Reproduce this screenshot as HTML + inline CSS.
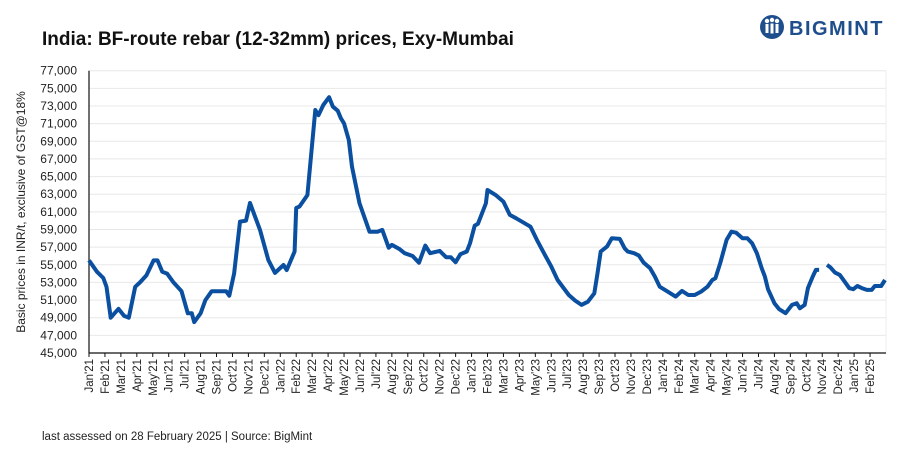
<!DOCTYPE html>
<html><head><meta charset="utf-8"><style>
body{margin:0;background:#fff;width:907px;height:454px;overflow:hidden;font-family:"Liberation Sans",sans-serif}
</style></head><body>
<svg id="chart" width="907" height="454" xmlns="http://www.w3.org/2000/svg" font-family="Liberation Sans, sans-serif">
<text x="42" y="45" font-size="19" font-weight="bold" fill="#111">India: BF-route rebar (12-32mm) prices, Exy-Mumbai</text>
<g>
<circle cx="772" cy="27" r="12" fill="#1f4e8c"/>
<circle cx="767" cy="21" r="2.2" fill="#fff"/><circle cx="772" cy="20" r="2.2" fill="#fff"/><circle cx="777" cy="21" r="2.2" fill="#fff"/>
<rect x="765.5" y="24" width="3" height="9" fill="#fff"/><rect x="770.5" y="23.5" width="3" height="10" fill="#fff"/><rect x="775.5" y="24" width="3" height="9" fill="#fff"/>
<text x="789" y="35" font-size="20" font-weight="bold" fill="#1f4e8c" letter-spacing="1.5">BIGMINT</text>
</g>
<text transform="translate(25,212) rotate(-90)" text-anchor="middle" font-size="12" fill="#222">Basic prices in INR/t, exclusive of GST@18%</text>
<g id="grid"></g><g id="yticks"></g><g id="xticks"></g>
<path id="line" fill="none" stroke="#0a4fa0" stroke-width="4" stroke-linejoin="round"/>
<text x="42" y="440" font-size="11.5" fill="#222">last assessed on 28 February  2025 | Source:  BigMint</text>
</svg>
<script>
const monthLabels=["Jan'21","Feb'21","Mar'21","Apr'21","May'21","Jun'21","Jul'21","Aug'21","Sep'21","Oct'21","Nov'21","Dec'21","Jan'22","Feb'22","Mar'22","Apr'22","May'22","Jun'22","Jul'22","Aug'22","Sep'22","Oct'22","Nov'22","Dec'22","Jan'23","Feb'23","Mar'23","Apr'23","May'23","Jun'23","Jul'23","Aug'23","Sep'23","Oct'23","Nov'23","Dec'23","Jan'24","Feb'24","Mar'24","Apr'24","May'24","Jun'24","Jul'24","Aug'24","Sep'24","Oct'24","Nov'24","Dec'24","Jan'25","Feb'25"];
const yTicks=[45000,47000,49000,51000,53000,55000,57000,59000,61000,63000,65000,67000,69000,71000,73000,75000,77000];
const months=[0,0.5,0.9,1.1,1.36,1.6,1.85,2.2,2.5,2.9,3.2,3.6,4.05,4.3,4.6,4.9,5.3,5.8,6.2,6.45,6.6,7.0,7.3,7.7,8.6,8.8,9.1,9.47,9.85,10.1,10.73,11.25,11.67,12.2,12.4,12.9,13.0,13.2,13.7,14.2,14.4,14.7,15.06,15.3,15.6,15.8,16.0,16.3,16.5,16.97,17.3,17.6,18.1,18.4,18.8,19.0,19.5,19.8,20.3,20.7,21.1,21.4,22.0,22.4,22.7,23.0,23.3,23.7,23.9,24.2,24.4,24.9,25.0,25.5,26.0,26.4,26.8,27.7,28.1,28.6,29.0,29.4,30.1,30.5,30.9,31.3,31.7,31.9,32.1,32.5,32.8,33.3,33.6,33.8,34.2,34.5,34.8,35.2,35.5,35.8,36.3,36.8,37.2,37.6,38.0,38.4,38.8,39.1,39.3,39.6,40.0,40.3,40.6,41.0,41.3,41.6,41.9,42.2,42.4,42.6,43.0,43.3,43.7,44.1,44.4,44.6,44.9,45.1,45.4,45.6,45.8,46.05,46.3,46.5,46.8,47.1,47.4,47.7,47.95,48.2,48.5,48.8,49.1,49.3,49.7,49.94];
const prices=[55500,54200,53500,52500,49000,49500,50000,49200,49000,52500,53000,53800,55500,55500,54200,54000,53000,52000,49500,49500,48500,49500,51000,52000,52000,51500,54000,59900,60000,62000,58950,55550,54080,54980,54400,56500,61440,61600,62900,72550,71960,73110,74000,72920,72470,71600,71040,69150,66120,61970,60270,58750,58750,58950,56940,57250,56760,56310,56000,55240,57170,56310,56570,55860,55860,55290,56200,56500,57440,59440,59630,61970,63480,62920,62160,60650,60270,59320,57820,56120,54790,53280,51580,50940,50450,50820,51770,54040,56490,57060,58010,57930,56880,56490,56310,56040,55240,54610,53660,52520,51960,51390,52040,51580,51580,51960,52520,53280,53470,55180,57820,58750,58640,58010,58010,57440,56310,54610,53660,52230,50640,49960,49510,50450,50640,50070,50450,52340,53660,54420,54420,null,54990,54730,54110,53850,53090,52340,52230,52600,52340,52150,52150,52600,52600,53280];
const X0=89,X1=886,Y0=353,Y1=70.7,NM=50;
const xs=m=>X0+(X1-X0)*m/NM;
const ys=v=>Y0-(Y0-Y1)*(v-45000)/(77000-45000);
const NS="http://www.w3.org/2000/svg";
const grid=document.getElementById('grid'),yt=document.getElementById('yticks'),xt=document.getElementById('xticks');
yTicks.forEach(v=>{
 const y=ys(v);
 if(v>45000){const l=document.createElementNS(NS,'line');
 
 
 l.setAttribute('x1',X0);l.setAttribute('x2',X1);l.setAttribute('y1',y);l.setAttribute('y2',y);l.setAttribute('stroke','#e8e8e8');l.setAttribute('stroke-width','1');grid.appendChild(l);}
 const t=document.createElementNS(NS,'text');
 
 
 t.setAttribute('x',77);t.setAttribute('y',y+4);t.setAttribute('text-anchor','end');t.setAttribute('font-size','12');t.setAttribute('fill','#222');
 t.textContent=v.toLocaleString('en-US');yt.appendChild(t);
});
const rl=document.createElementNS(NS,'line');


rl.setAttribute('x1',X1);rl.setAttribute('x2',X1);rl.setAttribute('y1',Y1);rl.setAttribute('y2',Y0);rl.setAttribute('stroke','#ececec');grid.appendChild(rl);
const ax=document.createElementNS(NS,'path');


ax.setAttribute('d',`M${X0},${Y1}V${Y0}H${X1}`);ax.setAttribute('stroke','#111');ax.setAttribute('fill','none');ax.setAttribute('stroke-width','1.2');xt.appendChild(ax);
monthLabels.forEach((lab,i)=>{
 const x=xs(i);
 const tk=document.createElementNS(NS,'line');
 
 
 tk.setAttribute('x1',x);tk.setAttribute('x2',x);tk.setAttribute('y1',Y0);tk.setAttribute('y2',Y0+4);tk.setAttribute('stroke','#111');xt.appendChild(tk);
 const t=document.createElementNS(NS,'text');
 
 
 t.setAttribute('transform',`translate(${x+4},${Y0+6}) rotate(-90)`);t.setAttribute('text-anchor','end');t.setAttribute('font-size','11.5');t.setAttribute('fill','#222');
 t.textContent=lab;xt.appendChild(t);
});
let d='',pen=false;
months.forEach((m,i)=>{const v=prices[i];if(v===null){pen=false;return;}d+=(pen?'L':'M')+xs(m).toFixed(1)+','+ys(v).toFixed(1);pen=true;});
document.getElementById('line').setAttribute('d',d);
</script>
</body></html>
